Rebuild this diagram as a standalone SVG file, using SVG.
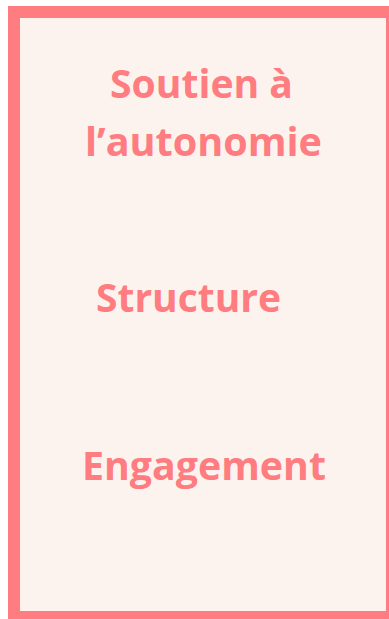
<svg xmlns="http://www.w3.org/2000/svg" width="389" height="619" viewBox="0 0 389 619">
<style>
.lbl{font-family:"Open Sans","Liberation Sans",sans-serif;font-weight:bold;font-size:38.5px;fill:#FF7C80}
</style>
<rect width="389" height="619" fill="#FFFFFF"/>
<g id="panel">
<rect x="14" y="12" width="378" height="605" fill="#FDF3EE" stroke="#FF7C80" stroke-width="12"/>
</g>
<g id="soutien">
<text class="lbl" x="110" y="98" textLength="183" lengthAdjust="spacingAndGlyphs">Soutien à</text>
<text class="lbl" x="85" y="156" textLength="237" lengthAdjust="spacingAndGlyphs">l’autonomie</text>
</g>
<g id="structure">
<text class="lbl" x="96" y="312" style="font-size:40px" textLength="185" lengthAdjust="spacingAndGlyphs">Structure</text>
</g>
<g id="engagement">
<text class="lbl" x="82" y="480" textLength="244" lengthAdjust="spacingAndGlyphs">Engagement</text>
</g>
</svg>
